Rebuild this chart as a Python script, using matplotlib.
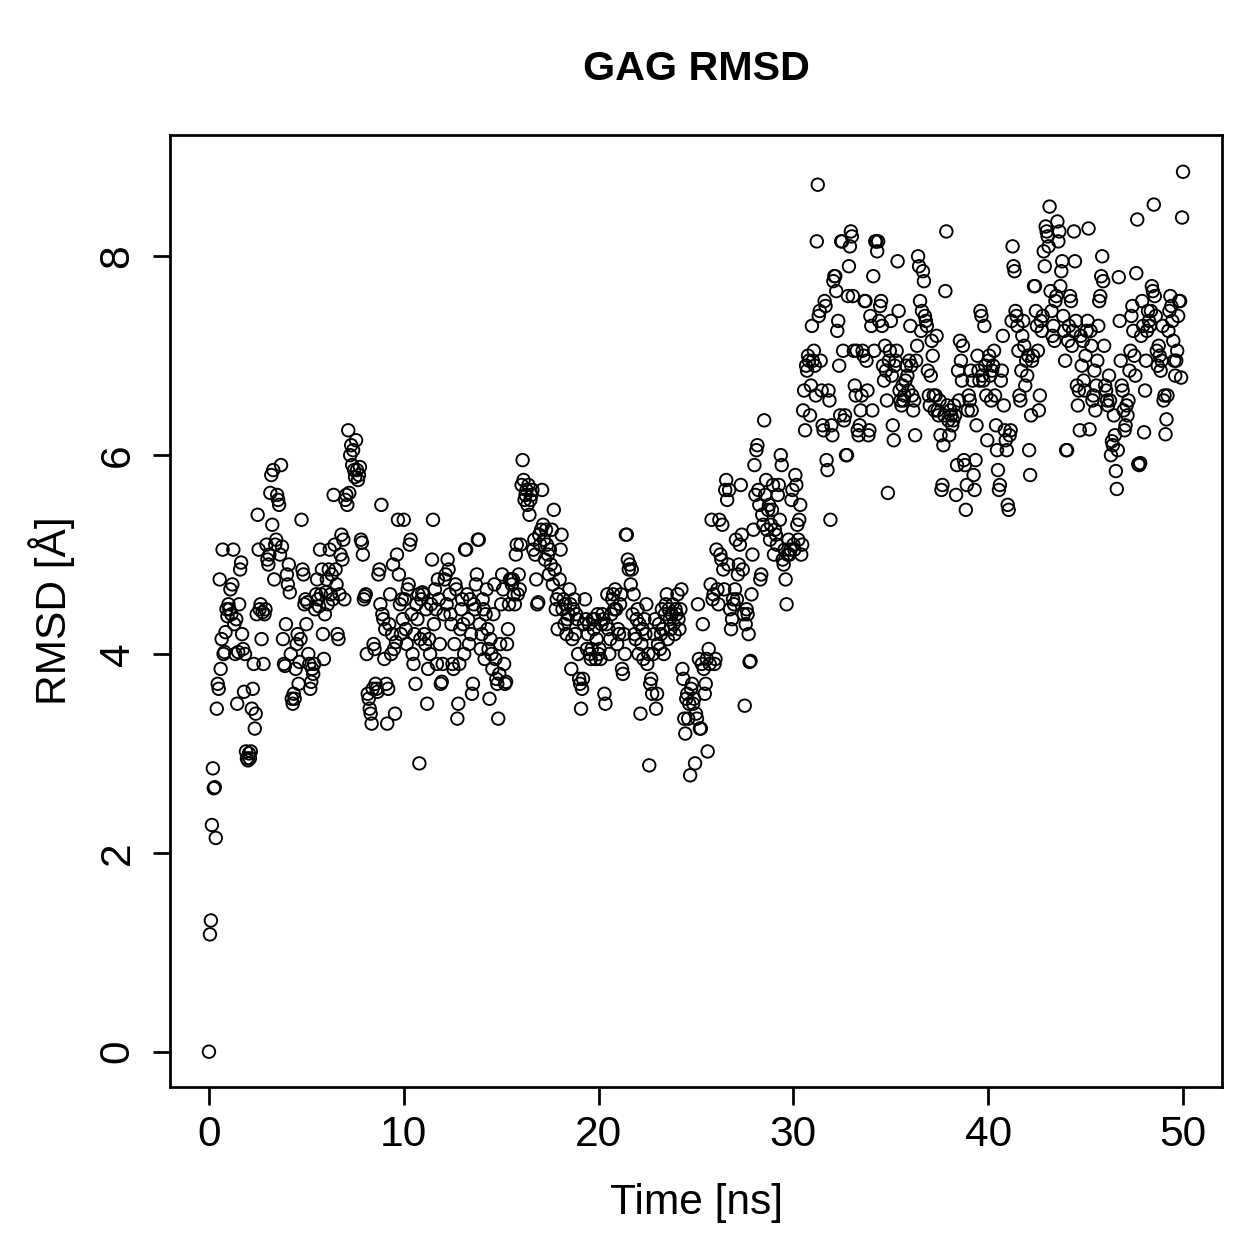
import numpy as np
import matplotlib
matplotlib.use("Agg")
import matplotlib.pyplot as plt

plt.rcParams['font.family'] = ['Liberation Sans', 'DejaVu Sans']

# RMSD values, one frame every 0.05 ns (20 per row = 1 ns)
rmsd = [
    0.00, 1.18, 1.32, 2.28, 2.85, 2.65, 2.66, 2.15, 3.45, 3.70, 3.65, 4.75, 3.85, 4.15, 5.05, 4.00, 4.02, 4.22, 4.45, 4.38,
    4.50, 4.45, 4.65, 4.40, 4.70, 5.05, 4.30, 4.00, 4.35, 3.50, 4.02, 4.50, 4.85, 4.92, 4.20, 4.05, 3.62, 4.00, 3.02, 2.95,
    2.93, 3.00, 2.95, 3.02, 3.45, 3.65, 3.90, 3.25, 3.40, 4.40, 5.40, 5.05, 4.45, 4.50, 4.15, 4.42, 3.90, 4.40, 4.45, 5.10,
    4.95, 4.90, 5.00, 5.62, 5.80, 5.30, 5.85, 4.75, 5.10, 5.15, 5.60, 5.55, 5.50, 5.00, 5.90, 5.08, 4.15, 3.90, 3.88, 4.30,
    4.80, 4.70, 4.90, 4.62, 4.00, 3.55, 3.50, 3.60, 3.55, 3.85, 4.10, 4.20, 3.70, 3.92, 4.15, 5.35, 4.85, 4.80, 4.50, 4.55,
    4.30, 4.52, 4.00, 3.90, 3.65, 3.72, 3.85, 3.80, 3.90, 4.45, 4.60, 4.75, 4.55, 4.48, 5.05, 4.60, 4.85, 4.20, 3.95, 4.40,
    4.62, 4.75, 4.50, 4.85, 5.05, 4.60, 4.80, 4.55, 5.60, 5.10, 4.85, 4.70, 4.20, 4.15, 4.60, 5.00, 5.20, 4.95, 5.15, 4.55,
    5.55, 5.60, 5.50, 6.25, 5.62, 6.00, 6.10, 5.90, 6.05, 5.85, 5.78, 6.15, 5.85, 5.75, 5.80, 5.88, 5.15, 5.12, 5.00, 4.55,
    4.58, 4.60, 4.00, 3.60, 3.55, 3.45, 3.40, 3.30, 3.65, 4.10, 4.05, 3.70, 3.65, 3.62, 4.80, 4.85, 4.50, 5.50, 4.40, 4.35,
    3.95, 4.25, 3.70, 3.30, 3.65, 4.30, 4.60, 4.00, 4.20, 4.90, 4.05, 3.40, 4.12, 5.00, 5.35, 4.80, 4.50, 4.20, 4.55, 4.35,
    5.35, 4.55, 4.25, 4.10, 4.65, 4.70, 5.10, 5.15, 4.40, 4.00, 3.90, 4.20, 3.70, 4.50, 4.35, 4.60, 2.90, 4.15, 4.55, 4.62,
    4.60, 4.20, 4.10, 4.45, 3.50, 3.85, 4.15, 4.00, 4.50, 4.95, 5.35, 4.30, 4.65, 4.45, 3.90, 4.75, 4.55, 4.10, 3.70, 3.72,
    3.90, 4.40, 4.75, 4.80, 4.50, 4.95, 4.85, 4.60, 4.40, 4.30, 3.90, 3.85, 4.10, 4.70, 4.65, 3.35, 3.50, 3.90, 4.25, 4.45,
    4.55, 4.30, 4.00, 5.05, 5.05, 4.60, 4.35, 4.10, 4.55, 4.20, 3.60, 3.70, 4.50, 4.45, 4.70, 4.80, 5.15, 5.15, 4.30, 4.05,
    4.20, 4.55, 4.45, 3.95, 4.40, 4.65, 4.25, 4.05, 3.55, 4.15, 4.00, 3.85, 4.40, 4.70, 3.95, 3.75, 3.70, 3.35, 3.80, 4.10,
    4.50, 4.80, 4.65, 3.90, 3.70, 3.72, 4.10, 4.25, 4.50, 4.75, 4.75, 4.70, 4.75, 4.60, 4.50, 5.00, 5.10, 4.60, 4.80, 4.65,
    5.10, 5.70, 5.95, 5.75, 5.55, 5.60, 5.65, 5.50, 5.70, 5.40, 5.55, 5.60, 5.65, 5.05, 5.15, 5.00, 4.75, 4.50, 4.52, 5.20,
    5.10, 5.25, 5.65, 5.30, 5.15, 4.95, 5.25, 5.10, 5.00, 4.80, 5.05, 4.90, 5.25, 4.70, 5.45, 4.85, 4.45, 4.55, 4.25, 4.60,
    4.75, 5.05, 5.20, 4.45, 4.55, 4.30, 4.50, 4.20, 4.35, 4.40, 4.65, 4.50, 3.85, 4.15, 4.45, 4.55, 4.20, 4.40, 4.35, 4.00,
    3.75, 3.70, 3.45, 3.65, 3.75, 4.30, 4.55, 4.35, 4.05, 4.20, 4.30, 4.00, 3.95, 4.05, 4.35, 4.25, 4.35, 3.95, 4.15, 4.40,
    4.00, 4.05, 3.95, 4.30, 4.40, 4.35, 3.60, 3.50, 4.30, 4.60, 4.25, 4.00, 4.15, 4.40, 4.55, 4.60, 4.45, 4.65, 4.45, 4.10,
    4.25, 4.20, 4.50, 4.60, 3.85, 3.80, 4.20, 4.00, 5.20, 5.20, 4.95, 4.85, 4.90, 4.70, 4.85, 4.40, 4.60, 4.20, 4.15, 4.35,
    4.45, 4.00, 4.30, 3.40, 4.10, 4.25, 3.95, 4.35, 4.20, 4.50, 3.90, 4.00, 2.88, 3.70, 3.75, 3.60, 4.00, 4.20, 4.35, 3.45,
    3.60, 4.10, 4.30, 4.05, 4.20, 4.45, 4.25, 4.00, 4.40, 4.50, 4.60, 4.15, 4.45, 4.35, 4.25, 4.40, 4.50, 4.30, 4.20, 4.45,
    4.40, 4.60, 4.35, 4.25, 4.45, 4.65, 3.85, 3.75, 3.35, 3.20, 3.55, 3.60, 3.35, 3.50, 2.78, 3.65, 3.70, 3.50, 3.55, 2.90,
    3.40, 3.35, 4.50, 3.95, 3.25, 3.25, 3.90, 4.30, 3.85, 3.60, 3.70, 3.95, 3.02, 4.05, 3.90, 4.70, 5.35, 4.55, 4.60, 3.90,
    3.95, 5.05, 4.65, 4.50, 5.35, 5.00, 4.95, 5.30, 4.85, 4.65, 5.65, 5.75, 5.55, 4.90, 5.65, 4.45, 4.25, 4.35, 4.55, 4.50,
    4.65, 5.15, 4.55, 4.80, 4.90, 5.10, 5.70, 5.20, 4.85, 4.40, 3.48, 4.30, 4.45, 4.40, 4.20, 3.92, 3.93, 4.60, 5.00, 5.25,
    5.90, 5.60, 6.05, 6.10, 5.65, 5.50, 4.75, 4.80, 5.40, 5.30, 6.35, 5.60, 5.75, 5.25, 5.45, 5.50, 5.15, 5.30, 5.45, 5.70,
    5.00, 5.25, 5.20, 5.10, 5.60, 5.70, 5.35, 6.00, 5.90, 4.95, 4.90, 5.05, 4.75, 4.50, 5.00, 5.15, 5.00, 5.05, 5.55, 5.65,
    5.10, 5.05, 5.80, 5.70, 5.30, 5.15, 5.35, 5.50, 5.00, 5.10, 6.45, 6.65, 6.25, 6.90, 6.85, 7.00, 6.95, 6.40, 6.70, 7.30,
    6.95, 7.05, 6.90, 6.60, 8.15, 8.72, 7.40, 7.45, 6.95, 6.65, 6.30, 6.25, 7.55, 7.50, 5.95, 5.85, 6.65, 6.55, 5.35, 6.30,
    6.20, 7.75, 7.80, 7.80, 7.65, 7.25, 7.35, 6.90, 6.40, 8.15, 8.15, 7.05, 6.35, 6.40, 6.00, 6.00, 7.60, 7.90, 8.10, 8.25,
    8.20, 7.60, 7.05, 6.70, 6.60, 7.05, 6.25, 6.20, 6.30, 6.45, 6.60, 7.05, 7.00, 7.55, 7.55, 6.95, 6.65, 6.20, 6.25, 7.40,
    7.30, 6.45, 7.80, 7.05, 8.15, 8.15, 8.05, 8.15, 7.35, 7.50, 7.55, 7.30, 6.90, 6.75, 7.10, 6.85, 6.55, 5.62, 6.95, 7.05,
    7.35, 6.80, 6.30, 6.15, 6.90, 6.95, 7.05, 7.95, 7.45, 6.65, 6.55, 6.50, 6.70, 6.55, 6.60, 6.75, 6.90, 6.80, 6.65, 6.95,
    7.30, 6.90, 6.60, 6.45, 6.55, 6.20, 6.95, 7.10, 8.00, 7.90, 7.55, 7.25, 7.45, 7.85, 7.75, 7.40, 7.35, 7.30, 6.85, 6.60,
    6.50, 6.80, 7.15, 7.00, 6.60, 6.45, 6.60, 7.20, 6.45, 6.40, 6.55, 6.20, 5.65, 5.70, 6.10, 6.40, 7.65, 8.25, 6.50, 6.35,
    6.20, 6.45, 6.40, 6.30, 6.35, 6.50, 6.40, 5.60, 5.90, 6.85, 6.55, 7.15, 6.95, 6.75, 7.10, 5.95, 5.90, 5.45, 5.70, 6.45,
    6.60, 6.55, 6.85, 6.45, 6.75, 5.80, 5.65, 5.95, 6.30, 7.00, 6.85, 6.75, 7.45, 7.40, 6.80, 6.75, 7.30, 6.90, 6.60, 6.15,
    6.95, 7.00, 6.80, 6.55, 6.85, 6.90, 7.05, 6.60, 6.30, 6.05, 5.85, 5.65, 5.70, 6.75, 6.85, 7.20, 6.50, 6.25, 6.15, 6.05,
    5.50, 5.45, 6.20, 6.25, 7.35, 8.10, 7.90, 7.85, 7.45, 7.40, 7.30, 7.05, 6.60, 6.55, 6.85, 7.20, 7.35, 7.10, 6.70, 6.95,
    6.80, 7.00, 6.05, 5.80, 6.40, 6.95, 7.00, 7.70, 7.70, 7.45, 7.30, 7.05, 6.45, 6.60, 7.35, 7.25, 7.40, 8.05, 7.90, 8.30,
    8.25, 8.20, 8.10, 8.50, 7.65, 7.45, 7.20, 7.30, 7.15, 7.55, 7.60, 8.35, 8.15, 8.25, 7.70, 7.85, 7.95, 7.40, 7.25, 6.95,
    6.05, 6.05, 7.15, 7.30, 7.60, 7.55, 7.10, 7.25, 8.25, 7.95, 7.35, 6.70, 6.50, 6.65, 6.25, 7.20, 6.90, 7.15, 6.75, 6.65,
    7.00, 7.25, 7.35, 8.28, 6.26, 7.25, 7.10, 6.55, 6.60, 6.85, 6.45, 6.70, 6.95, 7.30, 7.55, 7.60, 7.80, 8.00, 7.75, 7.10,
    6.70, 6.65, 6.55, 6.50, 6.80, 6.55, 6.00, 6.14, 6.10, 6.40, 6.20, 5.84, 5.66, 6.05, 7.79, 7.35, 6.95, 6.70, 6.65, 6.45,
    6.25, 6.30, 6.50, 6.40, 6.55, 6.85, 7.05, 7.40, 7.50, 7.25, 7.00, 6.80, 7.83, 8.37, 5.91, 5.90, 5.92, 7.20, 7.55, 7.30,
    6.23, 6.65, 6.95, 7.25, 7.45, 7.35, 7.30, 7.45, 7.70, 7.65, 8.52, 7.60, 7.40, 7.05, 6.90, 7.10, 7.00, 6.85, 6.95, 7.30,
    6.55, 6.60, 6.21, 6.36, 6.60, 7.25, 7.45, 7.60, 7.50, 7.35, 7.15, 6.95, 6.80, 6.95, 7.05, 7.40, 7.55, 7.55, 6.78, 8.39,
    8.85,
]
time_ns = np.arange(len(rmsd)) * 0.05

x_ticks = [0, 10, 20, 30, 40, 50]
y_ticks = [0, 2, 4, 6, 8]

W = 1259
fig = plt.figure(figsize=(W / 180, W / 180), dpi=180)
ax = fig.add_axes([170 / W, 1 - 1087 / W, 1052 / W, 952 / W])

ax.scatter(time_ns, rmsd, s=25, facecolors='none', edgecolors='black', linewidths=0.75)

ax.set_xlim(-2.0, 52.0)
ax.set_ylim(-0.355, 9.22)
ax.set_xticks(x_ticks)
ax.set_yticks(y_ticks)
ax.tick_params(direction='out', length=7, width=1.1, labelsize=17)
ax.tick_params(axis='x', pad=4)
ax.tick_params(axis='y', pad=6)
for lab in ax.get_yticklabels():
    lab.set_rotation(90)
    lab.set_va('center')
for sp in ax.spines.values():
    sp.set_linewidth(1.1)

# axis titles and main title placed like the R plot
fig.text(696 / W, 1 - 1203 / W, 'Time [ns]', ha='center', va='center', fontsize=17)
fig.text(52 / W, 1 - 611 / W, 'RMSD [Å]', ha='center', va='center', rotation=90, fontsize=17)
fig.text(696 / W, 1 - 69 / W, 'GAG RMSD', ha='center', va='center', fontsize=16.5, fontweight='bold')

fig.savefig('out.png', dpi=180)
